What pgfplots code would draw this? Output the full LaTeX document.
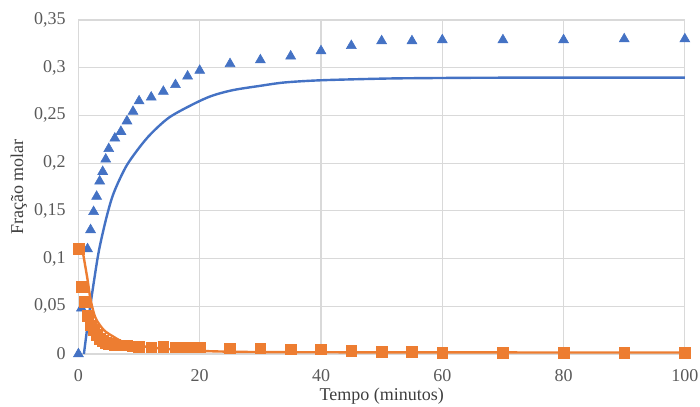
\documentclass[border=0pt]{standalone}
\usepackage{pgfplots}
\pgfplotsset{compat=1.18}
\usepackage{fontspec}
\setmainfont{Liberation Serif}
\definecolor{xlblue}{HTML}{4472C4}
\definecolor{xlorange}{HTML}{ED7D31}
\definecolor{gridgray}{HTML}{D9D9D9}
\definecolor{ticktext}{HTML}{595959}
\begin{document}
\begin{tikzpicture}
\begin{axis}[
  at={(0,0)}, anchor=south west,
  scale only axis, width=404.3pt, height=222.7pt,
  xmin=0, xmax=100, ymin=0, ymax=0.35,
  xtick={0,20,40,60,80,100},
  ytick={0,0.05,0.1,0.15,0.2,0.25,0.3,0.35},
  xticklabel={\pgfmathprintnumber[assume math mode=true]{\tick}},
  yticklabel={\pgfmathprintnumber[assume math mode=true,fixed,use comma]{\tick}},
  grid=major,
  major grid style={gridgray, line width=0.8pt},
  axis line style={gridgray, line width=0.8pt},
  major tick length=0pt,
  tick label style={font=\fontsize{12}{14}\selectfont, text=ticktext},
  xticklabel style={yshift=-7pt},
  yticklabel style={xshift=-5pt},
  xlabel={Tempo (minutos)},
  ylabel={Fração molar},
  label style={font=\fontsize{12}{14}\selectfont, text=ticktext!70!black},
  xlabel style={yshift=2.5pt},
  ylabel style={yshift=-2pt},
  clip=false,
]
% blue model curve
\addplot[xlblue, line width=1.6pt, smooth, tension=0.5] coordinates {
(0.9,0) (1.7,0.039) (2.6,0.078) (3.4,0.109) (4.5,0.140) (5.5,0.163) (6.5,0.179)
(8,0.198) (10,0.216) (12,0.231) (15,0.248) (19,0.262) (22,0.2705) (25.5,0.2765)
(30,0.2810) (34,0.2845) (40,0.2868) (50,0.2885) (56,0.289) (70,0.2895) (100,0.2895)
};
% orange model curve
\addplot[xlorange, line width=1.6pt, smooth, tension=0.5] coordinates {
(0.8,0.104) (1.5,0.078) (2,0.057) (2.8,0.038) (4.2,0.025) (5.8,0.018) (7.4,0.0125)
(9.7,0.009) (12,0.007) (15,0.005) (21,0.003) (30,0.002) (50,0.0017) (100,0.0015)
};
% blue data (triangles)
\addplot[only marks, mark=triangle*, mark size=3.8pt, color=xlblue] coordinates {
(0,0) (0.5,0.048) (1.5,0.110) (2,0.130) (2.5,0.149) (3,0.165) (3.5,0.181)
(4,0.191) (4.5,0.204) (5,0.215) (6,0.226) (7,0.233) (8,0.244) (9,0.254)
(10,0.265) (12,0.269) (14,0.275) (16,0.282) (18,0.291) (20,0.297)
(25,0.304) (30,0.308) (35,0.312) (40,0.3175) (45,0.323) (50,0.328) (55,0.328)
(60,0.329) (70,0.329) (80,0.329) (90,0.330) (100,0.330)
};
% orange data (squares)
\addplot[only marks, mark=square*, mark size=3.6pt, color=xlorange] coordinates {
(0,0.110) (0.5,0.070) (1,0.055) (1.5,0.040) (2,0.030) (2.5,0.025) (3,0.020)
(3.5,0.016) (4,0.014) (4.5,0.012) (5,0.011) (6,0.010) (7,0.009) (8,0.009)
(9,0.008) (10,0.0075) (12,0.007) (14,0.0077) (16,0.007) (18,0.007) (20,0.007)
(25,0.006) (30,0.006) (35,0.005) (40,0.005) (45,0.003) (50,0.002) (55,0.002)
(60,0.0014) (70,0.0014) (80,0.0014) (90,0.0014) (100,0.0014)
};
\end{axis}
\pgfresetboundingbox
\path[use as bounding box] (-52.3pt,-34.7pt) rectangle (414.4pt,236pt);
\end{tikzpicture}
\end{document}
